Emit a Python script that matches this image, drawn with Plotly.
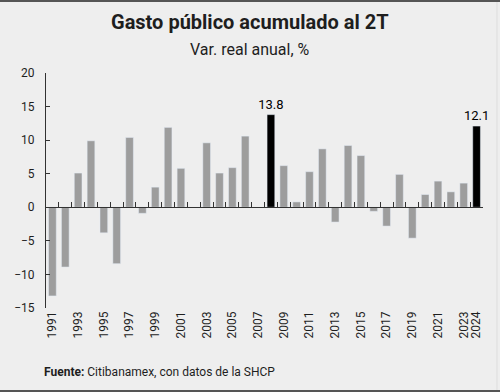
import plotly.graph_objects as go

years = list(range(1991, 2025))
values = [-13.2, -8.9, 5.1, 9.9, -3.8, -8.4, 10.4, -0.9, 3.0, 11.9, 5.8, None,
          9.6, 5.1, 5.9, 10.6, None, 13.8, 6.2, 0.8, 5.3, 8.7, -2.2, 9.2, 7.7,
          -0.6, -2.8, 4.9, -4.6, 1.9, 3.9, 2.3, 3.6, 12.1]
highlight = [2008, 2024]
tick_years = list(range(1991, 2024, 2)) + [2024]
y_ticks = [-15, -10, -5, 0, 5, 10, 15, 20]
y_range = [-15, 20]

GREY = "rgb(157,157,157)"
BG = "rgb(238,238,238)"
TXT = "rgb(30,30,30)"
AX = "rgb(50,50,50)"

colors = ["rgb(0,0,0)" if y in highlight else GREY for y in years]
labels = [f"{v:.1f}" if y in highlight else "" for y, v in zip(years, values)]

fig = go.Figure()
fig.add_trace(go.Bar(
    x=years, y=values, marker_color=colors, width=0.6,
    text=labels, textposition="outside", cliponaxis=False, constraintext="none",
    textfont=dict(family="Roboto", size=13, color="rgb(0,0,0)"),
    hoverinfo="skip", showlegend=False,
))
# invisible trace on the helper subplot whose bottom edge sits at y = 0
fig.add_trace(go.Scatter(
    x=years, y=[1] * len(years), xaxis="x2", yaxis="y2", mode="markers",
    marker=dict(opacity=0), hoverinfo="skip", showlegend=False,
))

rng = [years[0] - 0.5, years[-1] + 0.5]
zero_frac = (0 - y_range[0]) / (y_range[1] - y_range[0])
fig.update_layout(
    width=500, height=392,
    margin=dict(l=46, r=17, t=73, b=84),
    paper_bgcolor=BG, plot_bgcolor="rgba(0,0,0,0)",
    font=dict(family="Roboto", color=TXT, size=12),
    xaxis=dict(
        range=rng, tickmode="array", tickvals=tick_years,
        ticktext=[str(t) for t in tick_years], tickangle=-90,
        showline=False, ticks="", showgrid=False, zeroline=False,
        tickfont=dict(size=12, color=TXT), fixedrange=True,
    ),
    xaxis2=dict(
        anchor="y2", domain=[0, 1], range=rng,
        tickmode="array", tickvals=[y - 0.5 for y in years[1:]] + [rng[1]],
        ticks="inside", ticklen=5, tickcolor=AX, tickwidth=1,
        showticklabels=False, showline=True, linecolor=AX, linewidth=1,
        showgrid=False, zeroline=False, fixedrange=True,
    ),
    yaxis=dict(
        range=y_range, tickvals=y_ticks, showgrid=False,
        zeroline=True, zerolinecolor=AX, zerolinewidth=1,
        showline=True, linecolor=AX, linewidth=1,
        ticks="inside", ticklen=4, tickcolor=AX, tickwidth=1,
        tickfont=dict(size=12, color=TXT), ticklabelstandoff=8, fixedrange=True,
    ),
    yaxis2=dict(
        anchor="x2", domain=[zero_frac, 1], range=[0, 2], visible=False,
        showgrid=False, zeroline=False, fixedrange=True,
    ),
)

fig.add_annotation(
    text="<b>Gasto público acumulado al 2T</b>",
    xref="paper", yref="paper", x=(250 - 46) / 437, y=(308 - 22) / 235,
    xanchor="center", yanchor="middle", showarrow=False,
    font=dict(family="Roboto", size=20, color=TXT),
)
fig.add_annotation(
    text="Var. real anual, %",
    xref="paper", yref="paper", x=(250 - 46) / 437, y=(308 - 49) / 235,
    xanchor="center", yanchor="middle", showarrow=False,
    font=dict(family="Roboto", size=16, color=TXT),
)
fig.add_annotation(
    text="<b>Fuente:</b> Citibanamex, con datos de la SHCP",
    xref="paper", yref="paper", x=-4 / 437, y=(308 - 372) / 235,
    xanchor="left", yanchor="middle", showarrow=False,
    font=dict(family="Roboto", size=12, color=TXT),
)
# frame lines
fig.add_shape(type="line", xref="paper", yref="paper",
              x0=-46 / 437, x1=(500 - 46) / 437, y0=(308 - 1) / 235, y1=(308 - 1) / 235,
              line=dict(color="rgb(85,85,85)", width=2))
fig.add_shape(type="line", xref="paper", yref="paper",
              x0=-46 / 437, x1=(500 - 46) / 437, y0=(308 - 391) / 235, y1=(308 - 391) / 235,
              line=dict(color="rgb(85,85,85)", width=2))
fig.add_shape(type="line", xref="paper", yref="paper",
              x0=(497 - 46) / 437, x1=(497 - 46) / 437, y0=(308 - 2) / 235, y1=(308 - 390) / 235,
              line=dict(color="rgb(221,221,221)", width=1))

fig.write_html("out.html", config={"displayModeBar": False},
               post_script="document.body.style.margin='0';document.body.style.padding='0';")
